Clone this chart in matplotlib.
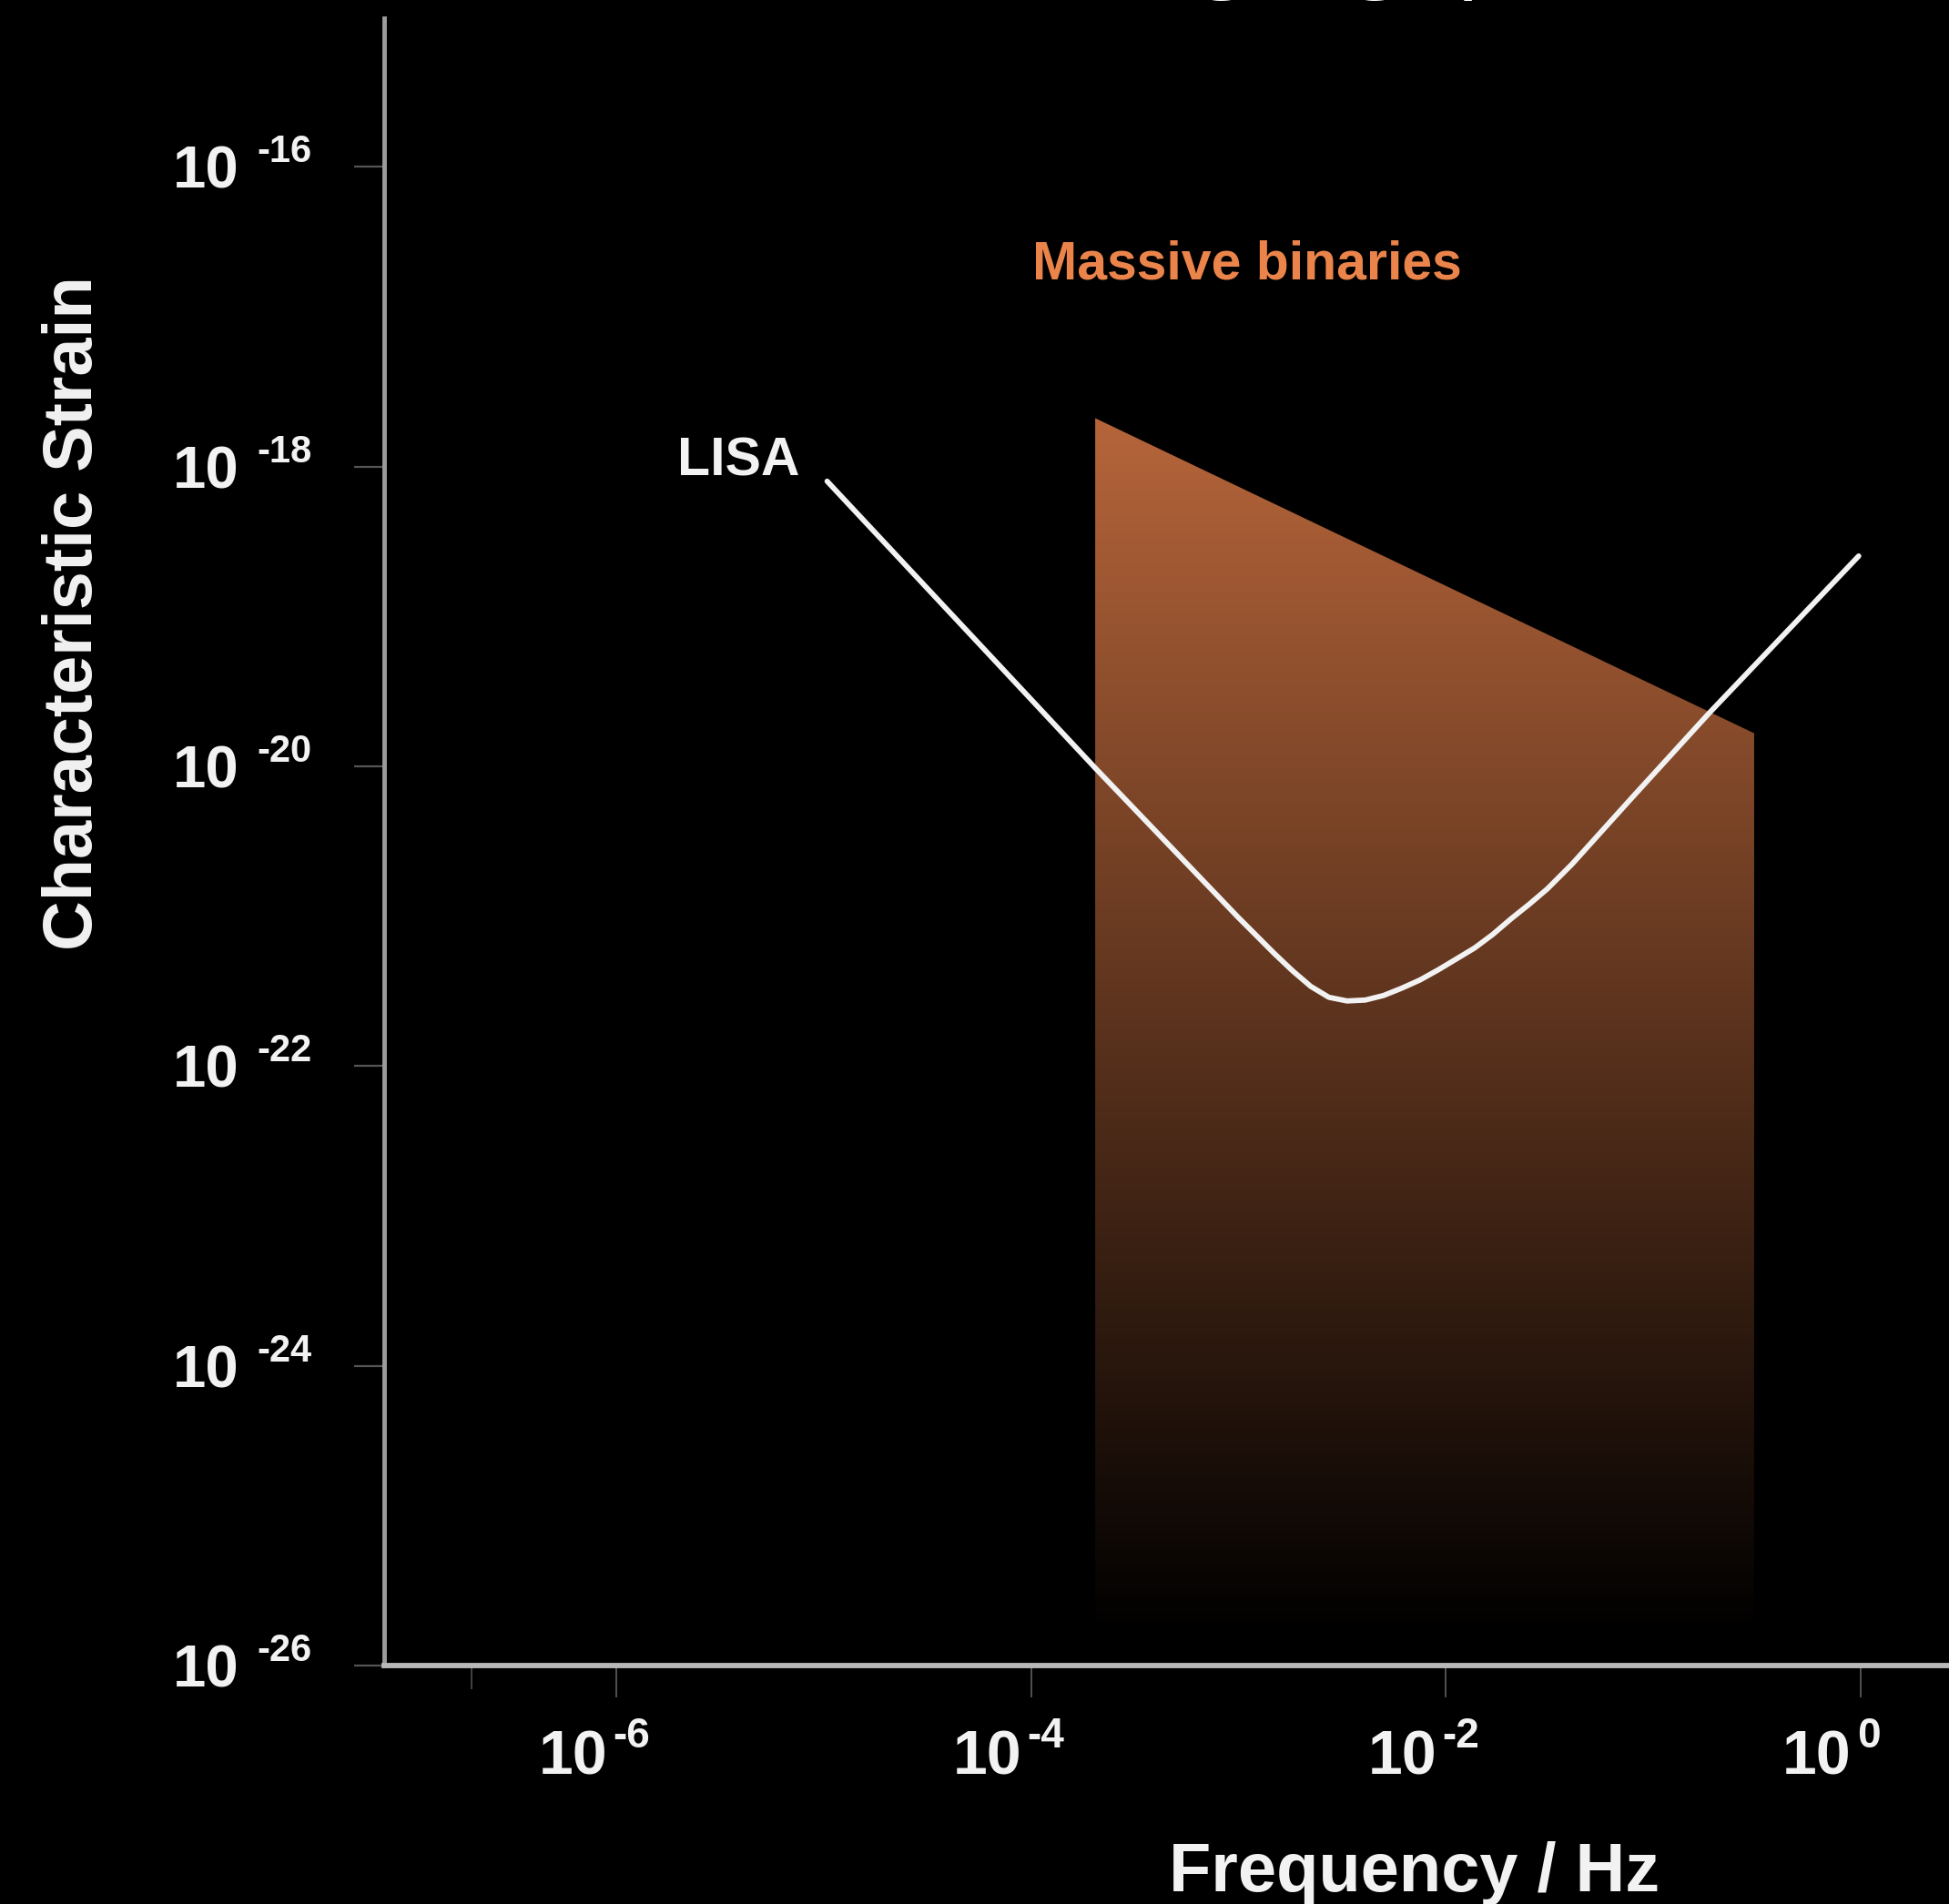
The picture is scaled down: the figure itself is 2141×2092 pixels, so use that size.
import numpy as np
import matplotlib
matplotlib.use("Agg")
import matplotlib.pyplot as plt
from matplotlib.patches import Polygon
from matplotlib.ticker import NullLocator, NullFormatter
from matplotlib.transforms import ScaledTranslation

plt.rcParams['font.family'] = ['Liberation Sans', 'DejaVu Sans']

# LISA sensitivity curve
lisa_freq = [1.04e-5, 2.04e-4, 9.95e-4, 1.218e-3, 1.491e-3, 1.825e-3, 2.234e-3,
             2.733e-3, 3.346e-3, 4.097e-3, 5.013e-3, 6.136e-3, 7.51e-3, 9.19e-3,
             1.125e-2, 1.377e-2, 1.685e-2, 2.063e-2, 2.526e-2, 3.092e-2, 4.062e-2,
             7.915e-2, 0.1868, 0.980]
lisa_strain = [7.97e-19, 9.74e-21, 9.86e-22, 7.45e-22, 5.63e-22, 4.32e-22, 3.40e-22,
               2.874e-22, 2.718e-22, 2.757e-22, 2.956e-22, 3.307e-22, 3.75e-22, 4.38e-22,
               5.18e-22, 6.13e-22, 7.55e-22, 9.59e-22, 1.20e-21, 1.522e-21, 2.222e-21,
               6.18e-21, 2.272e-20, 2.527e-19]

# massive binaries band
binaries_freq = [2.04e-4, 0.307]
binaries_top = [2.1e-18, 1.66e-20]
binaries_floor = 1.6e-26

y_exps = [-16, -18, -20, -22, -24, -26]
x_exps = [-6, -4, -2, 0]
x_minor = [2e-7]

fig = plt.figure(figsize=(21.41, 20.92), dpi=100, facecolor='black')
ax = fig.add_axes([0.1971, 0.1252, 0.8029, 0.8652])
ax.set_facecolor('black')
ax.set_xscale('log')
ax.set_yscale('log')

# gradient fill for the binaries band, clipped to its outline
xlim = (10 ** -7.119, 10 ** 0.4267)
ylim = (1e-26, 10 ** -15.01)
rows = np.linspace(np.log10(ylim[1]), np.log10(ylim[0]), 900)
top_log = np.log10(binaries_top[0])
t = np.clip((top_log - rows) / (top_log - np.log10(binaries_floor)), 0, 1)
top_rgb = np.array([182, 101, 58]) / 255
grad = top_rgb[None, :] * (1 - t)[:, None]
img = np.repeat(grad[:, None, :], 2, axis=1)
im = ax.imshow(img, extent=[0, 1, 0, 1], transform=ax.transAxes,
               aspect='auto', interpolation='bilinear', zorder=1)
band = Polygon([(binaries_freq[0], binaries_floor), (binaries_freq[0], binaries_top[0]),
                (binaries_freq[1], binaries_top[1]), (binaries_freq[1], binaries_floor)],
               closed=True, facecolor='none', edgecolor='none', transform=ax.transData)
ax.add_patch(band)
im.set_clip_path(band)

ax.plot(lisa_freq, lisa_strain, color='#f2f2f2', lw=4.2, solid_capstyle='round',
        solid_joinstyle='round', zorder=3)

ax.set_xlim(*xlim)
ax.set_ylim(*ylim)

# spines and ticks
for s in ['top', 'right']:
    ax.spines[s].set_visible(False)
ax.spines['left'].set_color('#9c9c9c')
ax.spines['left'].set_linewidth(3.5)
ax.spines['bottom'].set_color('#b8b8b8')
ax.spines['bottom'].set_linewidth(4.2)

ax.set_yticks([10.0 ** e for e in y_exps], ['10'] * len(y_exps))
ax.yaxis.set_minor_locator(NullLocator())
ax.set_xticks([10.0 ** e for e in x_exps], ['10'] * len(x_exps))
ax.set_xticks(x_minor, minor=True)
ax.xaxis.set_minor_formatter(NullFormatter())

ax.tick_params(axis='y', which='major', length=24, width=1.6, color='#555555',
               pad=91, labelsize=47, labelcolor='#f2f2f2')
ax.tick_params(axis='x', which='major', length=25, width=1.1, color='#666666',
               pad=25, labelsize=49, labelcolor='#f2f2f2')
ax.tick_params(axis='x', which='minor', length=19, width=1.1, color='#555555')
for lab in ax.get_yticklabels() + ax.get_xticklabels():
    lab.set_fontweight('bold')
for lab in ax.get_xticklabels():
    lab.set_horizontalalignment('right')
    lab.set_transform(lab.get_transform() + ScaledTranslation(-0.10, 0, fig.dpi_scale_trans))

# exponents of the tick labels
for e in y_exps:
    ax.annotate(f'{e}', xy=(0, 10.0 ** e), xycoords=('axes fraction', 'data'),
                xytext=(-140, 5), textcoords='offset pixels', ha='left', va='baseline',
                fontsize=30, fontweight='bold', color='#f2f2f2', annotation_clip=False)
for e in x_exps:
    ax.annotate(f'{e}', xy=(10.0 ** e, 0), xycoords=('data', 'axes fraction'),
                xytext=(-4, -90), textcoords='offset pixels', ha='left', va='baseline',
                fontsize=33, fontweight='bold', color='#f2f2f2', annotation_clip=False)

ax.set_ylabel('Characteristic Strain', fontsize=54.5, fontweight='bold', color='#f2f2f2', va='center')
ax.yaxis.set_label_coords(-0.1978, 0.6387)
ax.set_xlabel('Frequency / Hz', fontsize=54.5, fontweight='bold', color='#f2f2f2', va='top')
ax.xaxis.set_label_coords(0.658, -0.1066)

ax.text(10 ** -2.958, 10 ** -16.748, 'Massive binaries', ha='center', va='baseline',
        fontsize=42.5, fontweight='bold', color='#ea844a', zorder=4)
ax.text(10 ** -5.705, 10 ** -18.062, 'LISA', ha='left', va='baseline',
        fontsize=42.5, fontweight='bold', color='#f2f2f2', zorder=4)

# slide title, cut off by the top edge
fig.text(0.511, 1.0115, 'Filling a gap', family='Open Sans', fontsize=75,
         color='white', ha='left', va='baseline')

fig.savefig('out.png', dpi=100, facecolor='black')
